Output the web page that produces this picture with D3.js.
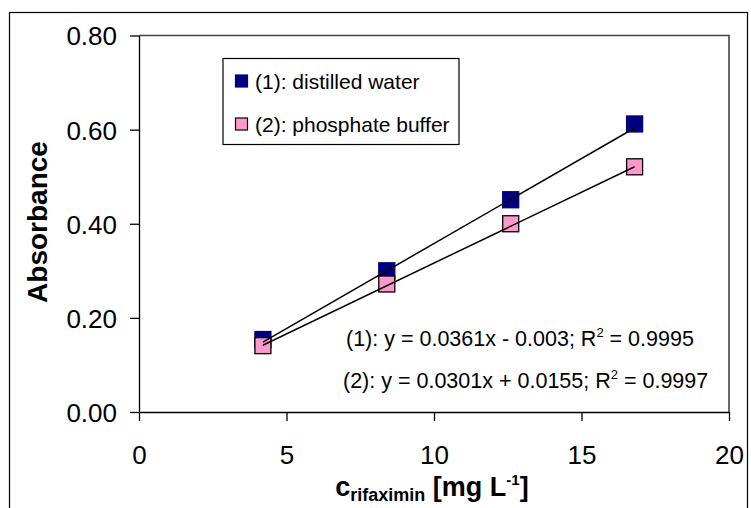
<!DOCTYPE html>
<html>
<head>
<meta charset="utf-8">
<script src="https://cdn.jsdelivr.net/npm/d3@7"></script>
<style>
  html, body { margin: 0; padding: 0; background: #fff; }
  svg { display: block; font-family: Arial, "Liberation Sans", sans-serif; }
</style>
</head>
<body>
<svg id="chart" width="751" height="508"></svg>
<script>
// ---- data ----
const concentrations = [4.2, 8.4, 12.6, 16.8];
const waterAbs = [0.154, 0.300, 0.451, 0.612];
const bufferAbs = [0.141, 0.272, 0.400, 0.521];
const seriesNames = ["(1): distilled water", "(2): phosphate buffer"];
const slopes = [0.0361, 0.0301];
const intercepts = [-0.003, 0.0155];
const equationLabels = ["(1): y = 0.0361x - 0.003; R", "(2): y = 0.0301x + 0.0155; R"];
const r2Labels = ["0.9995", "0.9997"];
const xTicks = [0, 5, 10, 15, 20];
const yTicks = [0, 0.2, 0.4, 0.6, 0.8];

const colors = ["#000080", "#FF99CC"];
const strokes = ["#000080", "#000000"];

const svg = d3.select("#chart");
const L = 139, R = 729, T = 35.5, B = 412;

const x = d3.scaleLinear().domain([0, 20]).range([L, R]);
const y = d3.scaleLinear().domain([0, 0.8]).range([B, T]);

// outer frame
svg.append("rect").attr("x", 9.5).attr("y", 12.5).attr("width", 738).attr("height", 520)
  .attr("fill", "none").attr("stroke", "#000").attr("stroke-width", 1.2);

// plot area border (top & right)
svg.append("path").attr("d", `M${L},${T}H${R}V${B}`)
  .attr("fill", "none").attr("stroke", "#444").attr("stroke-width", 1.6);

// axes
const xAxis = d3.axisBottom(x).tickValues(xTicks).tickSize(9).tickSizeOuter(0).tickPadding(25)
  .tickFormat(d3.format("d"));
const gx = svg.append("g").attr("transform", `translate(0,${B})`).call(xAxis);
const yAxis = d3.axisLeft(y).tickValues(yTicks).tickSize(9).tickSizeOuter(0).tickPadding(13)
  .tickFormat(d3.format(".2f"));
const gy = svg.append("g").attr("transform", `translate(${L},0)`).call(yAxis);
[gx, gy].forEach(g => {
  g.selectAll("path, line").attr("stroke", "#000").attr("stroke-width", 1.3);
  g.selectAll("text").attr("font-size", 26).attr("fill", "#000")
    .attr("font-family", 'Arial, "Liberation Sans", sans-serif');
});
gx.selectAll("text").attr("dy", "0.71em");
gy.selectAll("text").attr("dy", "0.36em");

// markers (series 1 drawn first, series 2 on top)
const ms = 16;
const series = [waterAbs, bufferAbs];
series.forEach((s, i) => {
  svg.append("g").selectAll("rect").data(s).join("rect")
    .attr("x", (d, j) => x(concentrations[j]) - ms / 2)
    .attr("y", d => y(d) - ms / 2)
    .attr("width", ms).attr("height", ms)
    .attr("fill", colors[i]).attr("stroke", strokes[i]).attr("stroke-width", 1.3);
});

// linear trend lines drawn over the markers
const line = d3.line().x(d => x(d[0])).y(d => y(d[1]));
series.forEach((s, i) => {
  const x0 = d3.min(concentrations), x1 = d3.max(concentrations);
  const pts = [[x0, slopes[i] * x0 + intercepts[i]], [x1, slopes[i] * x1 + intercepts[i]]];
  svg.append("path").attr("d", line(pts)).attr("fill", "none")
    .attr("stroke", "#000").attr("stroke-width", 1.5);
});

// legend
const lg = svg.append("g");
lg.append("rect").attr("x", 223).attr("y", 58.5).attr("width", 236).attr("height", 86)
  .attr("fill", "#fff").attr("stroke", "#000").attr("stroke-width", 1.2);
seriesNames.forEach((name, i) => {
  const cy = 81 + i * 43;
  lg.append("rect").attr("x", 235.5).attr("y", cy - 6).attr("width", 12).attr("height", 12)
    .attr("fill", colors[i]).attr("stroke", strokes[i]).attr("stroke-width", 1.2);
  lg.append("text").attr("x", 255).attr("y", cy + 7.5).attr("font-size", 21)
    .attr("fill", "#000").text(name);
});

// equations
equationLabels.forEach((lab, i) => {
  const t = svg.append("text").attr("x", 346 - i * 3).attr("y", 346 + i * 42).attr("font-size", 21.5)
    .attr("fill", "#000");
  t.append("tspan").text(lab);
  t.append("tspan").attr("font-size", 13).attr("dy", -9).text("2");
  t.append("tspan").attr("dy", 9).text(" = " + r2Labels[i]);
});

// y-axis title
svg.append("text").attr("transform", "translate(47,222) rotate(-90)")
  .attr("text-anchor", "middle").attr("font-size", 28).attr("font-weight", "bold")
  .attr("fill", "#000").text("Absorbance");

// x-axis title
const xt = svg.append("text").attr("x", 432).attr("y", 496).attr("text-anchor", "middle")
  .attr("font-weight", "bold").attr("font-size", 27).attr("fill", "#000");
xt.append("tspan").text("c");
xt.append("tspan").attr("font-size", 18).attr("dy", 5).text("rifaximin");
xt.append("tspan").attr("dy", -5).text(" [mg L");
xt.append("tspan").attr("font-size", 15).attr("dy", -11).text("-1");
xt.append("tspan").attr("dy", 11).text("]");
</script>
</body>
</html>
